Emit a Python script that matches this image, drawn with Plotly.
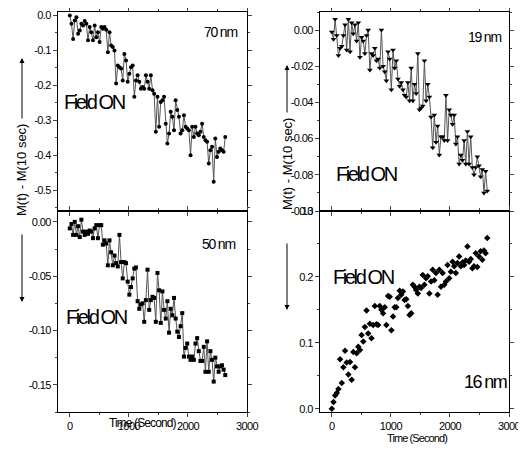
import plotly.graph_objs as go

# the page body has an 8px margin, so the figure is drawn 8px in from the corner
OFFSET = 8
W, H = 526 - OFFSET, 454 - OFFSET

# time axis (seconds), shared by all four runs
TIME_S = [0, 28, 56, 84, 112, 140, 168, 196, 224, 252, 280, 308, 336, 364, 392, 420,
          448, 476, 504, 532, 560, 588, 616, 644, 672, 700, 728, 756, 784, 812, 840, 868,
          896, 924, 952, 980, 1008, 1036, 1064, 1092, 1120, 1148, 1176, 1204, 1232, 1260,
          1288, 1316, 1344, 1372, 1400, 1428, 1456, 1484, 1512, 1540, 1568, 1596, 1624,
          1652, 1680, 1708, 1736, 1764, 1792, 1820, 1848, 1876, 1904, 1932, 1960, 1988,
          2016, 2044, 2072, 2100, 2128, 2156, 2184, 2212, 2240, 2268, 2296, 2324, 2352,
          2380, 2408, 2436, 2464, 2492, 2520, 2548, 2576, 2604, 2632]

M_70NM = [0.0, -0.024, -0.067, -0.014, -0.005, -0.052, -0.043, -0.024, -0.029, -0.016,
          -0.024, -0.071, -0.033, -0.048, -0.071, -0.029, -0.062, -0.048, -0.076, -0.033,
          -0.038, -0.033, -0.041, -0.105, -0.048, -0.086, -0.090, -0.100, -0.195, -0.143,
          -0.148, -0.152, -0.186, -0.110, -0.129, -0.190, -0.167, -0.148, -0.143, -0.233,
          -0.186, -0.171, -0.190, -0.210, -0.205, -0.210, -0.171, -0.190, -0.210, -0.171,
          -0.214, -0.224, -0.333, -0.233, -0.319, -0.248, -0.243, -0.233, -0.310, -0.367,
          -0.338, -0.276, -0.290, -0.329, -0.243, -0.271, -0.290, -0.338, -0.329, -0.286,
          -0.319, -0.324, -0.329, -0.400, -0.319, -0.348, -0.319, -0.338, -0.343, -0.333,
          -0.310, -0.348, -0.357, -0.362, -0.424, -0.386, -0.376, -0.476, -0.352, -0.405,
          -0.390, -0.381, -0.386, -0.390, -0.348]

M_50NM = [-0.006, -0.002, -0.012, 0.0, -0.012, -0.004, -0.014, 0.002, -0.009,
          -0.012, -0.009, -0.011, -0.008, -0.009, -0.015, -0.006, -0.003, -0.015, -0.003,
          -0.003, -0.021, -0.017, -0.020, -0.040, -0.017, -0.028, -0.040, -0.031, -0.038,
          -0.041, -0.012, -0.037, -0.052, -0.037, -0.038, -0.055, -0.067, -0.060, -0.052,
          -0.043, -0.042, -0.073, -0.080, -0.076, -0.075, -0.092, -0.072, -0.044, -0.081,
          -0.072, -0.069, -0.070, -0.092, -0.047, -0.063, -0.093, -0.064, -0.081, -0.089,
          -0.073, -0.102, -0.080, -0.086, -0.070, -0.089, -0.101, -0.106, -0.096, -0.084,
          -0.124, -0.116, -0.112, -0.124, -0.127, -0.124, -0.127, -0.112, -0.107, -0.119,
          -0.128, -0.128, -0.115, -0.138, -0.110, -0.138, -0.119, -0.127, -0.147, -0.125,
          -0.133, -0.138, -0.133, -0.132, -0.136, -0.141]

M_19NM = [-0.001, -0.005, 0.006, -0.003, -0.014, -0.010, -0.009, -0.003, 0.003, -0.011,
          0.006, -0.012, 0.004, -0.002, 0.003, -0.006, 0.004, -0.015, -0.004, -0.006,
          -0.013, -0.003, 0.0, -0.022, -0.013, -0.014, -0.010, -0.017, -0.016, -0.021,
          0.0, -0.020, -0.023, -0.028, -0.012, -0.016, -0.033, -0.011, -0.021, -0.017,
          -0.027, -0.031, -0.029, -0.033, -0.036, -0.037, -0.029, -0.039, -0.021, -0.039,
          -0.030, -0.035, -0.013, -0.044, -0.043, -0.042, -0.017, -0.039, -0.030, -0.037,
          -0.048, -0.065, -0.047, -0.062, -0.053, -0.069, -0.059, -0.059, -0.061, -0.036,
          -0.061, -0.044, -0.047, -0.052, -0.047, -0.063, -0.059, -0.074, -0.069, -0.072,
          -0.061, -0.074, -0.056, -0.074, -0.059, -0.076, -0.080, -0.076, -0.070, -0.075,
          -0.081, -0.077, -0.090, -0.078, -0.089]

M_16NM = [0.000, 0.010, 0.020, 0.024, 0.030, 0.075, 0.039, 0.063, 0.088, 0.070,
          0.052, 0.071, 0.044, 0.086, 0.063, 0.084, 0.094, 0.089, 0.112, 0.102,
          0.124, 0.149, 0.114, 0.129, 0.107, 0.127, 0.156, 0.128, 0.127, 0.156,
          0.150, 0.145, 0.154, 0.127, 0.171, 0.170, 0.119, 0.140, 0.154, 0.154,
          0.168, 0.179, 0.173, 0.178, 0.165, 0.166, 0.156, 0.142, 0.145, 0.188,
          0.185, 0.180, 0.175, 0.185, 0.183, 0.203, 0.188, 0.198, 0.201, 0.175,
          0.193, 0.211, 0.195, 0.206, 0.173, 0.211, 0.185, 0.206, 0.188, 0.193,
          0.218, 0.198, 0.208, 0.223, 0.216, 0.206, 0.221, 0.231, 0.216, 0.222,
          0.218, 0.225, 0.246, 0.223, 0.227, 0.213, 0.216, 0.236, 0.215, 0.231,
          0.239, 0.226, 0.240, 0.236, 0.259]

# y tick labels as printed on the original
Y70_TICKS = [0.0, -0.1, -0.2, -0.3, -0.4, -0.5]
Y70_TEXT = ["0.0", "-0.1", "-0.2", "-0.3", "-0.4", "-0.5"]
Y50_TICKS = [0.0, -0.05, -0.10, -0.15]
Y50_TEXT = ["0.00", "-0.05", "-0.10", "-0.15"]
Y19_TICKS = [0.0, -0.02, -0.04, -0.06, -0.08, -0.10]
Y19_TEXT = ["0.00", "-0.02", "-0.04", "-0.06", "-0.08", "-0.10"]
Y16_TICKS = [0.0, 0.1, 0.2, 0.3]
Y16_TEXT = ["0.0", "0.1", "0.2", "0.3"]

FONT = "Liberation Sans, Arial, sans-serif"


# screen pixel -> paper coords
def px(x):
    return (x - OFFSET) / W


def py(y):
    return 1 - (y - OFFSET) / H


def tight(s, sp):
    return '<span style="letter-spacing:%spx">%s</span>' % (sp, s)


def make_xaxis(domain, anchor, labels):
    return dict(domain=domain, anchor=anchor, range=[-200, 3000],
                tickvals=[0, 1000, 2000, 3000],
                ticktext=[tight(t, -0.6) for t in ["0", "1000", "2000", "3000"]],
                showticklabels=labels, ticks="outside", ticklen=4, tickwidth=1,
                minor=dict(ticks="outside", ticklen=2, dtick=500),
                showline=True, linecolor="black", linewidth=1, mirror="ticks",
                showgrid=False, zeroline=False, automargin=False,
                tickfont=dict(family=FONT, size=11, color="black"))


def make_yaxis(domain, anchor, rng, vals, texts, minor):
    return dict(domain=domain, anchor=anchor, range=rng, tickvals=vals,
                ticktext=[tight(t, -0.6) for t in texts],
                ticks="outside", ticklen=4, tickwidth=1,
                minor=dict(ticks="outside", ticklen=2, dtick=minor),
                showline=True, linecolor="black", linewidth=1, mirror="ticks",
                showgrid=False, zeroline=False, automargin=False,
                tickfont=dict(family=FONT, size=11, color="black"))


def plot():
    fig = go.Figure()
    line = dict(color="#555555", width=1)
    fig.add_trace(go.Scatter(x=TIME_S, y=M_70NM, mode="markers+lines", line=line,
                             marker=dict(symbol="circle", size=4, color="black"),
                             xaxis="x", yaxis="y"))
    fig.add_trace(go.Scatter(x=TIME_S, y=M_50NM, mode="markers+lines", line=line,
                             marker=dict(symbol="square", size=4, color="black"),
                             xaxis="x2", yaxis="y2"))
    fig.add_trace(go.Scatter(x=TIME_S, y=M_19NM, mode="markers+lines", line=line,
                             marker=dict(symbol="triangle-down", size=5, color="black"),
                             xaxis="x3", yaxis="y3"))
    fig.add_trace(go.Scatter(x=TIME_S, y=M_16NM, mode="markers",
                             marker=dict(symbol="diamond", size=5, color="black"),
                             xaxis="x4", yaxis="y4"))

    left = [px(58), px(247)]
    right = [px(320), px(509)]
    top = [py(211), py(12)]
    bottom = [py(412), py(211)]

    annotations = []

    def text(x, y, s, size, angle=0):
        annotations.append(dict(x=px(x), y=py(y), xref="paper", yref="paper", text=s,
                                showarrow=False, textangle=angle,
                                xanchor="center", yanchor="middle",
                                font=dict(family=FONT, size=size, color="black")))

    def arrow(x, tip_y, tail_y):
        annotations.append(dict(x=px(x), y=py(tip_y), xref="paper", yref="paper", text="",
                                showarrow=True, ax=0, ay=tail_y - tip_y, arrowhead=2,
                                arrowsize=1, arrowwidth=1, arrowcolor="black"))

    text(220, 32, tight("70 nm", -1.2), 14)
    text(94, 102, tight("Field ON", -2.4), 20)
    text(218, 244, tight("50 nm", -1.2), 14)
    text(96, 317, tight("Field ON", -2.4), 20)
    text(142, 423, tight("Time (Second)", -0.9), 12)
    text(484, 37, tight("19 nm", -1.2), 14)
    text(366, 174, tight("Field ON", -2.4), 20)
    text(363, 277, tight("Field ON", -2.4), 20)
    text(485, 382, tight("16 nm", -1.6), 18)
    text(417, 438, tight("Time (Second)", -0.9), 11)

    text(22, 170, "M(t) - M(10 sec)", 13, -90)
    text(287, 164, "M(t) - M(10 sec)", 13, -90)
    arrow(22, 58, 120)
    arrow(22, 302, 233)
    arrow(287, 65, 114)
    arrow(287, 310, 242)

    fig.update_layout(
        template="none",
        width=W, height=H, margin=dict(l=0, r=0, t=0, b=0),
        paper_bgcolor="white", plot_bgcolor="white", showlegend=False,
        xaxis=make_xaxis(left, "y", False),
        yaxis=make_yaxis(top, "x", [-0.56, 0.01], Y70_TICKS, Y70_TEXT, 0.05),
        xaxis2=make_xaxis(left, "y2", True),
        yaxis2=make_yaxis(bottom, "x2", [-0.175, 0.01], Y50_TICKS, Y50_TEXT, 0.025),
        xaxis3=make_xaxis(right, "y3", False),
        yaxis3=make_yaxis(top, "x3", [-0.1, 0.01], Y19_TICKS, Y19_TEXT, 0.01),
        xaxis4=make_xaxis(right, "y4", True),
        yaxis4=make_yaxis(bottom, "x4", [-0.005, 0.3], Y16_TICKS, Y16_TEXT, 0.05),
        annotations=annotations,
    )
    fig.write_html("out.html")


if __name__ == '__main__':
    plot()
